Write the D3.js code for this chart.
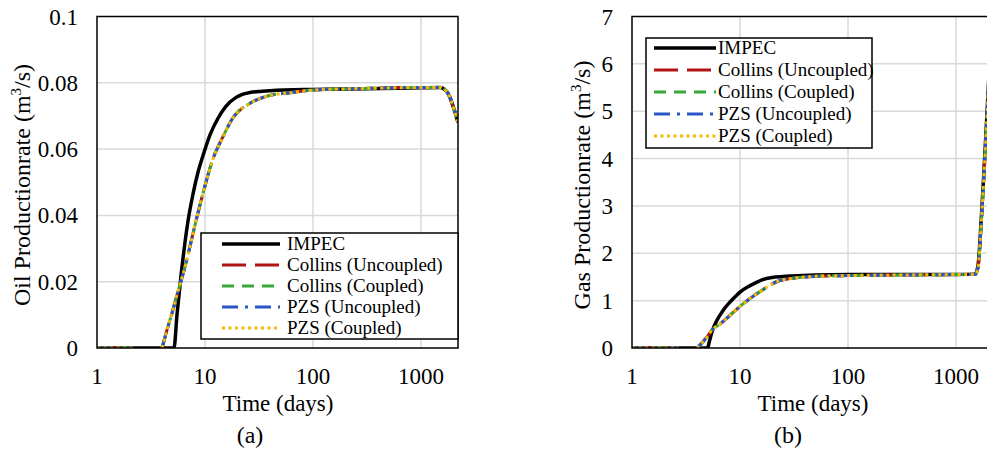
<!DOCTYPE html>
<html>
<head>
<meta charset="utf-8">
<script src="https://cdn.jsdelivr.net/npm/d3@7"></script>
<style>
  body { margin: 0; background: #fff; }
  text { font-family: "Liberation Serif", "Times New Roman", serif; fill: #000; }
</style>
</head>
<body>
<div id="c1"></div>
<script>
// Variables
var w = 987;
var h = 454;

var seriesNames = ["IMPEC", "Collins (Uncoupled)", "Collins (Coupled)", "PZS (Uncoupled)", "PZS (Coupled)"];
var seriesColors = ["#000000", "#b01414", "#3aa63a", "#2a55c8", "#f5b800"];
var xTicks = [1, 10, 100, 1000];
var oilTicks = [0, 0.02, 0.04, 0.06, 0.08, 0.1];
var gasTicks = [0, 1, 2, 3, 4, 5, 6, 7];

// oil rate (a)
var oilImpecDays = [1, 2, 4, 5.16, 5.5, 5.87, 6.39, 6.96, 7.74, 8.61, 9.79, 11.1, 13.2, 15.6, 19.4, 26.1, 40, 100, 300, 1000, 1500, 1650, 1800, 2000, 2200];
var oilImpec = [0, 0, 0, 0, 0.0099, 0.019, 0.0295, 0.0383, 0.0464, 0.053, 0.059, 0.0642, 0.0693, 0.0729, 0.0756, 0.0771, 0.0776, 0.078, 0.0782, 0.0785, 0.0786, 0.078, 0.0765, 0.0725, 0.068];
var oilModelDays = [1, 1.5, 2.2, 3, 4, 4.5, 5, 5.5, 6.1, 6.77, 7.8, 9.64, 11.9, 14.3, 18.3, 26.1, 40, 61, 100, 300, 1000, 1500, 1650, 1800, 2000, 2200];
var oilModel = [0, 0, 0, null, 0, 0.006, 0.011, 0.016, 0.021, 0.0265, 0.035, 0.047, 0.0572, 0.063, 0.0696, 0.0738, 0.0762, 0.077, 0.0778, 0.0783, 0.0786, 0.0786, 0.078, 0.0765, 0.0725, 0.068];

// gas rate (b)
var gasImpecDays = [1, 2, 4, 5, 5.2, 5.5, 6.1, 7, 8, 9, 10, 12, 13.8, 16, 19.8, 25, 30, 50, 100, 300, 1000, 1500, 1600, 1700, 1800, 1900, 2000, 2200];
var gasImpec = [0, 0, 0, 0, 0.13, 0.34, 0.58, 0.8, 0.96, 1.08, 1.18, 1.3, 1.37, 1.44, 1.49, 1.51, 1.52, 1.54, 1.55, 1.55, 1.55, 1.56, 1.75, 2.6, 3.6, 4.6, 5.6, 7.4];
var gasModelDays = [1, 1.5, 2.7, 3.3, 4, 4.5, 5, 5.5, 6.5, 7.9, 10, 13, 16, 23, 30, 40, 60, 100, 300, 1000, 1500, 1600, 1700, 1800, 1900, 2000, 2200];
var gasModel = [0, 0, 0, null, 0, 0.12, 0.25, 0.38, 0.5, 0.67, 0.88, 1.08, 1.22, 1.42, 1.47, 1.5, 1.52, 1.53, 1.54, 1.55, 1.55, 1.7, 2.5, 3.5, 4.5, 5.5, 7.3];

var dashes = [null, "24 9", "12 8", "16 7 3 7", "3 3.5"];
var widths = [3.5, 3, 3, 3, 3];

var svg = d3.select("#c1").append("svg")
    .attr("width", w)
    .attr("height", h);

svg.append("rect").attr("width", w).attr("height", h).attr("fill", "#fff");

function drawPanel(p) {
    var x = d3.scaleLog().domain([1, 2200]).range([p.left, p.left + 361]);
    var y = d3.scaleLinear().domain(p.yDomain).range([348, 16.5]);

    var g = svg.append("g");

    g.append("clipPath").attr("id", "clip" + p.id)
        .append("rect")
        .attr("x", p.left).attr("y", 16.5)
        .attr("width", x.range()[1] - p.left).attr("height", 348 - 16.5);

    // grid
    g.selectAll("line.gx").data(xTicks.slice(1)).enter().append("line")
        .attr("x1", function (d) { return x(d); }).attr("x2", function (d) { return x(d); })
        .attr("y1", 16.5).attr("y2", 348)
        .attr("stroke", "#d9d9d9").attr("stroke-width", 1.5);
    g.selectAll("line.gy").data(p.yTicks.slice(1, -1)).enter().append("line")
        .attr("x1", p.left).attr("x2", x.range()[1])
        .attr("y1", function (d) { return y(d); }).attr("y2", function (d) { return y(d); })
        .attr("stroke", "#d9d9d9").attr("stroke-width", 1.5);

    // curves
    var line = d3.line()
        .defined(function (d) { return d.v !== null; })
        .x(function (d) { return x(d.t); })
        .y(function (d) { return y(d.v); })
        .curve(d3.curveMonotoneX);

    var impec = p.impecDays.map(function (t, i) { return {t: t, v: p.impec[i]}; });
    var model = p.modelDays.map(function (t, i) { return {t: t, v: p.model[i]}; });
    var curves = [impec, model, model, model, model];

    var cg = g.append("g").attr("clip-path", "url(#clip" + p.id + ")");
    curves.forEach(function (c, i) {
        cg.append("path")
            .attr("d", line(c))
            .attr("fill", "none")
            .attr("stroke", seriesColors[i])
            .attr("stroke-width", widths[i])
            .attr("stroke-dasharray", dashes[i])
            .attr("stroke-linejoin", "round");
    });

    // frame
    g.append("rect")
        .attr("x", p.left).attr("y", 16.5)
        .attr("width", x.range()[1] - p.left).attr("height", 348 - 16.5)
        .attr("fill", "none").attr("stroke", "#000").attr("stroke-width", 1.5);

    // tick labels
    g.selectAll("text.yt").data(p.yTicks).enter().append("text")
        .attr("x", p.left - 19).attr("y", function (d) { return y(d) + 8; })
        .attr("text-anchor", "end").style("font-size", "23px")
        .text(function (d) { return d; });
    g.selectAll("text.xt").data(xTicks).enter().append("text")
        .attr("x", function (d) { return x(d); }).attr("y", 384)
        .attr("text-anchor", "middle").style("font-size", "23px")
        .text(function (d) { return d; });

    g.append("text").attr("x", p.xTitleX).attr("y", 411)
        .attr("text-anchor", "middle").style("font-size", "23px")
        .text("Time (days)");
    g.append("text").attr("x", p.capX).attr("y", 443)
        .attr("text-anchor", "middle").style("font-size", "24px")
        .text(p.caption);

    var yt = g.append("text")
        .attr("transform", "translate(" + (p.yTitleX) + ",185) rotate(-90)")
        .attr("text-anchor", "middle").style("font-size", "24px");
    yt.append("tspan").text(p.yTitle + " (m");
    yt.append("tspan").attr("dy", -9).style("font-size", "15px").text("3");
    yt.append("tspan").attr("dy", 9).text("/s)");

    // legend
    var L = p.legend;
    var lg = g.append("g");
    lg.append("rect")
        .attr("x", L.x).attr("y", L.y).attr("width", L.w).attr("height", L.h)
        .attr("fill", "#fff").attr("stroke", "#000").attr("stroke-width", 1.5);
    seriesNames.forEach(function (name, i) {
        var ry = L.y + L.first + i * L.step;
        lg.append("line")
            .attr("x1", L.x + L.l1).attr("x2", L.x + L.l2)
            .attr("y1", ry).attr("y2", ry)
            .attr("stroke", seriesColors[i])
            .attr("stroke-width", widths[i])
            .attr("stroke-dasharray", dashes[i]);
        lg.append("text")
            .attr("x", L.x + L.tx).attr("y", ry + 6)
            .style("font-size", "19px")
            .text(name);
    });
}

drawPanel({
    id: "a", left: 97, yDomain: [0, 0.1], yTicks: oilTicks,
    impecDays: oilImpecDays, impec: oilImpec, modelDays: oilModelDays, model: oilModel,
    yTitle: "Oil Productionrate", yTitleX: 30, xTitleX: 278, capX: 250, caption: "(a)",
    legend: {x: 201, y: 233, w: 257, h: 106, first: 11, step: 21, l1: 21, l2: 79, tx: 86}
});

drawPanel({
    id: "b", left: 632, yDomain: [0, 7], yTicks: gasTicks,
    impecDays: gasImpecDays, impec: gasImpec, modelDays: gasModelDays, model: gasModel,
    yTitle: "Gas Productionrate", yTitleX: 590, xTitleX: 813, capX: 788, caption: "(b)",
    legend: {x: 646, y: 38, w: 226, h: 110, first: 10, step: 22, l1: 8, l2: 70, tx: 72}
});
</script>
</body>
</html>
